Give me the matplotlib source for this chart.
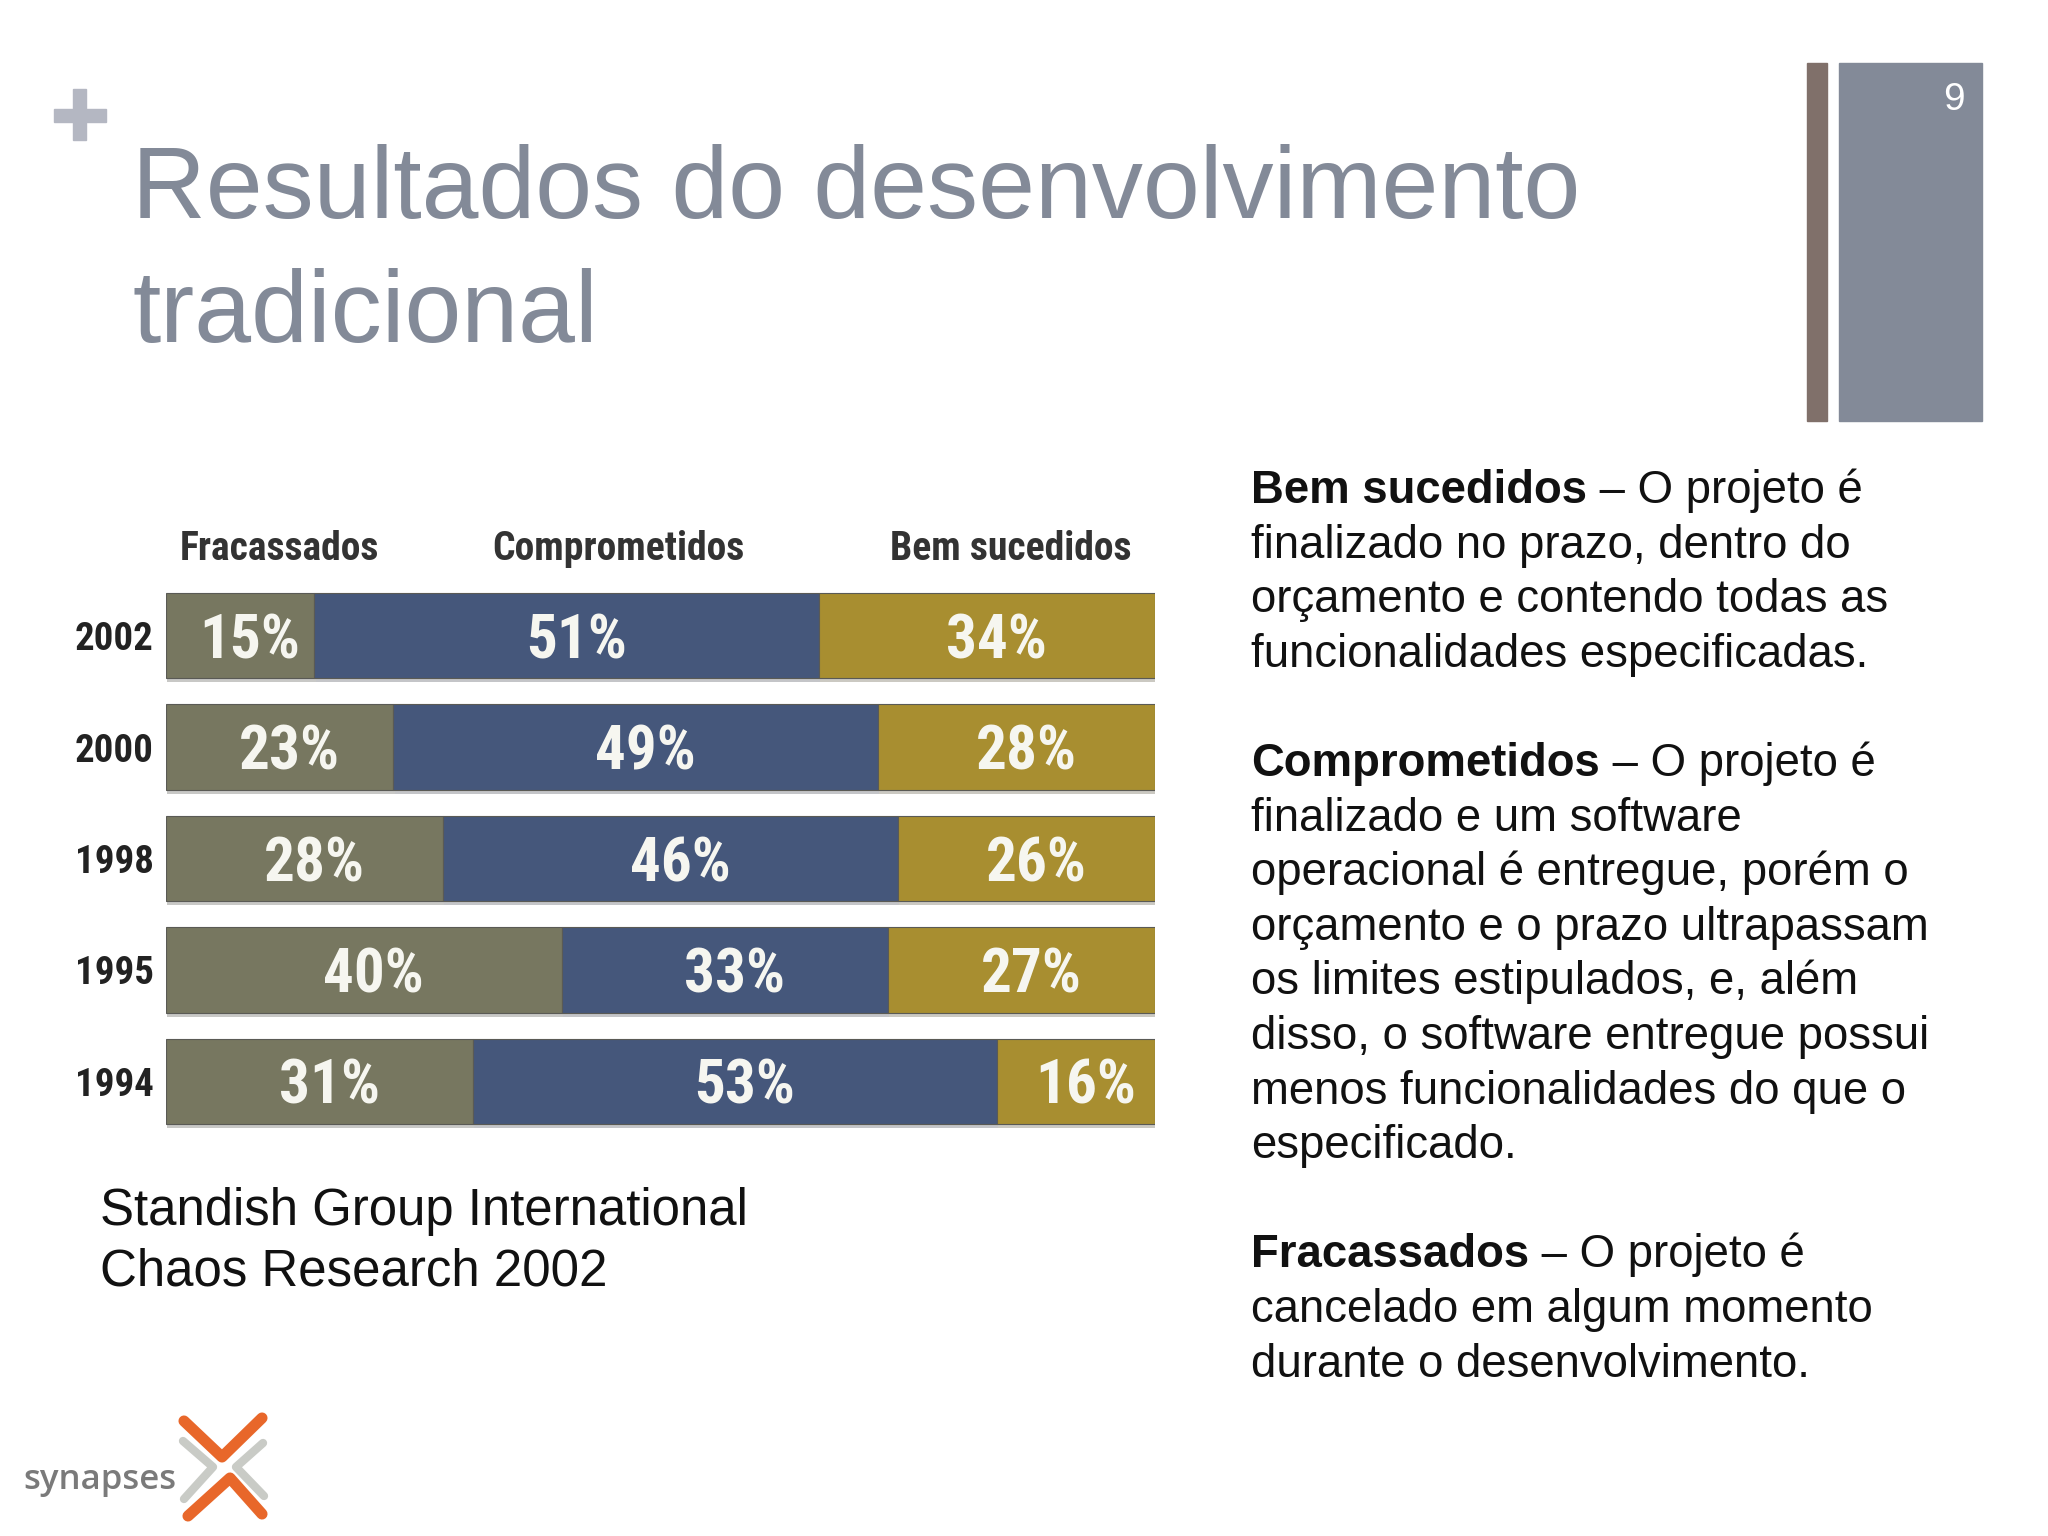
import matplotlib
matplotlib.use('Agg')
from matplotlib import pyplot as plt
from matplotlib import font_manager
import matplotlib.patheffects as pe
from matplotlib.patches import Rectangle

years = ['2002', '2000', '1998', '1995', '1994']
categories = ['Fracassados', 'Comprometidos', 'Bem sucedidos']
fracassados = [15, 23, 28, 40, 31]
comprometidos = [51, 49, 46, 33, 53]
bem_sucedidos = [34, 28, 26, 27, 16]
colors = ['#777760', '#45577b', '#a88e30']

title_lines = ['Resultados do desenvolvimento', 'tradicional']
source_lines = ['Standish Group International', 'Chaos Research 2002']
paragraphs = [
    ('Bem sucedidos', [' – O projeto é', 'finalizado no prazo, dentro do',
                       'orçamento e contendo todas as', 'funcionalidades especificadas.']),
    ('Comprometidos', [' – O projeto é', 'finalizado e um software',
                       'operacional é entregue, porém o', 'orçamento e o prazo ultrapassam',
                       'os limites estipulados, e, além', 'disso, o software entregue possui',
                       'menos funcionalidades do que o', 'especificado.']),
    ('Fracassados', [' – O projeto é', 'cancelado em algum momento',
                     'durante o desenvolvimento.']),
]

installed = {f.name for f in font_manager.fontManager.ttflist}
narrow = next((f for f in ['Liberation Sans Narrow', 'Roboto Condensed', 'Liberation Sans']
               if f in installed), 'DejaVu Sans')
plt.rcParams['font.family'] = ['Liberation Sans', 'DejaVu Sans']

W, H = 2048, 1536
fig = plt.figure(figsize=(W / 100, H / 100), dpi=100)


def fx(x):
    return x / W


def fy(y):
    return 1 - y / H


def box(x0, y0, x1, y1, color):
    # rectangle given in slide pixels (top-left origin)
    fig.patches.append(Rectangle((fx(x0), fy(y1)), (x1 - x0) / W, (y1 - y0) / H,
                                 color=color, transform=fig.transFigure))


# slide decoration
box(54, 109, 106, 122, '#b4b7c2')
box(73, 89, 86, 140, '#b4b7c2')
box(1807, 63, 1827, 421, '#80706a')
box(1839, 63, 1982, 421, '#838a98')
fig.text(fx(1965), fy(110), '9', color='white', fontsize=28, ha='right', va='baseline')

# title
for i, line in enumerate(title_lines):
    fig.text(fx(132), fy(218 + i * 124), line, color='#838a98', fontsize=73.5, va='baseline')

# stacked bar chart
ax = fig.add_axes([fx(166), fy(1137), 989 / W, 557 / H])
ypos = list(range(len(years)))
lefts = [0] * len(years)
for vals, col in zip([fracassados, comprometidos, bem_sucedidos], colors):
    bars = ax.barh(ypos, vals, left=lefts, height=0.765, color=col, edgecolor='#5a5a55',
                   linewidth=0.8, path_effects=[pe.withSimplePatchShadow(offset=(1, -3), alpha=0.25)])
    for b, v in zip(bars, vals):
        ax.text(b.get_x() + b.get_width() / 2 + 1, b.get_y() + b.get_height() / 2 + 0.05, f'{v}%',
                ha='center', va='center', color='#f6f6f0', fontsize=44, fontweight='bold',
                family=narrow)
    lefts = [l + v for l, v in zip(lefts, vals)]

ax.set_xlim(0, 100)
ax.set_ylim(len(years) - 0.5, -0.5)
ax.set_yticks(ypos)
ax.set_yticklabels(years, fontsize=28, fontweight='bold', family=narrow, color='#222222')
ax.tick_params(axis='y', length=0, pad=9)
ax.set_xticks([])
for s in ax.spines.values():
    s.set_visible(False)

header_x = [11.5, 45.7, 85.4]
for name, x in zip(categories, header_x):
    ax.text(x, -0.78, name, ha='center', va='center', fontsize=28.5, fontweight='bold',
            family=narrow, color='#333333', clip_on=False)

# source
for i, line in enumerate(source_lines):
    fig.text(fx(100), fy(1225 + i * 60), line, fontsize=36.7, color='#111111', va='baseline')

# definitions on the right
fig.canvas.draw()
renderer = fig.canvas.get_renderer()
base = 503
step = 54.6
row = 0
fs = 32.8
for bold, lines in paragraphs:
    y = fy(base + row * step)
    t = fig.text(fx(1251), y, bold, fontsize=fs, fontweight='bold', color='#111111', va='baseline')
    bb = t.get_window_extent(renderer=renderer)
    fig.text(bb.x1 / W, y, lines[0], fontsize=fs, color='#111111', va='baseline')
    row += 1
    for line in lines[1:]:
        fig.text(fx(1251), fy(base + row * step), line, fontsize=fs, color='#111111', va='baseline')
        row += 1
    row += 1

# synapses logo
fig.text(fx(23), fy(1480), 'synapses', fontsize=25, color='#7a7a7a', va='center',
         fontweight='semibold', family=['Open Sans', 'DejaVu Sans'])
logo = fig.add_axes([0, 0, 1, 1], zorder=-1)
logo.set_xlim(0, W)
logo.set_ylim(H, 0)
logo.axis('off')
logo.plot([184, 222, 262], [1421, 1457, 1418], color='#e8672a', lw=8, solid_capstyle='round')
logo.plot([188, 230, 262], [1516, 1478, 1514], color='#e8672a', lw=8, solid_capstyle='round')
logo.plot([183, 213, 184], [1441, 1467, 1499], color='#c9cbc6', lw=6, solid_capstyle='round')
logo.plot([263, 236, 264], [1443, 1467, 1496], color='#c9cbc6', lw=6, solid_capstyle='round')

fig.savefig('out.png', dpi=100, facecolor='white')
